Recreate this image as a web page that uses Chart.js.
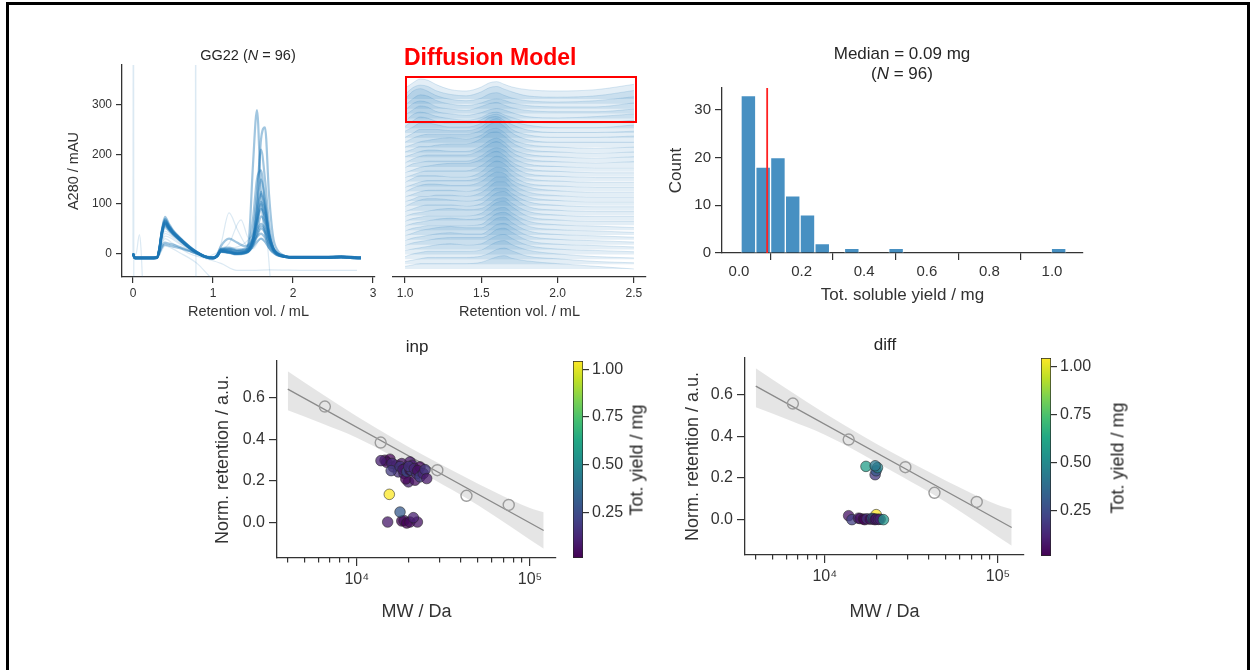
<!DOCTYPE html>
<html>
<head>
<meta charset="utf-8">
<script src="https://cdn.jsdelivr.net/npm/chart.js@4.4.1/dist/chart.umd.min.js"></script>
<style>
  html, body { margin: 0; padding: 0; background: #fff; }
  body { width: 1252px; height: 670px; position: relative; overflow: hidden;
         font-family: "Liberation Sans", Arial, sans-serif; color: #262626; }
  canvas { position: absolute; }
  .frame { position: absolute; left: 6px; top: 2px; width: 1238px; height: 700px;
           border: 3px solid #000; border-bottom: none; }
  .lbl { position: absolute; text-align: center; white-space: nowrap; }
  .note { position: absolute; color: #ff0000; font-weight: bold; font-size: 23px; white-space: nowrap; }
  .box { position: absolute; border: 2px solid #ff0000; box-sizing: border-box; }
  .rot { position: absolute; white-space: nowrap; transform: translate(-50%, -50%) rotate(-90deg); }
</style>
</head>
<body>
<div class="frame"></div>

<canvas id="chromChart" width="330" height="285" style="left:60px;top:40px"></canvas>
<canvas id="ridgeChart" width="280" height="285" style="left:380px;top:40px"></canvas>
<canvas id="yieldHist" width="440" height="280" style="left:660px;top:40px"></canvas>
<canvas id="inpScatter" width="365" height="300" style="left:200px;top:330px"></canvas>
<canvas id="inpBar" width="95" height="300" style="left:565px;top:330px"></canvas>
<canvas id="diffScatter" width="365" height="300" style="left:670px;top:330px"></canvas>
<canvas id="diffBar" width="110" height="300" style="left:1035px;top:330px"></canvas>

<div class="lbl" style="left:148px;width:200px;top:46px;font-size:14.5px;line-height:18px">GG22 (<i>N</i> = 96)</div>
<div class="note" style="left:404px;top:44px">Diffusion Model</div>
<div class="box" style="left:405px;top:76px;width:232px;height:47px"></div>
<div class="lbl" style="left:752px;width:300px;top:44px;font-size:17px;line-height:20px">Median = 0.09 mg<br>(<i>N</i> = 96)</div>
<div class="lbl" style="left:317px;width:200px;top:336px;font-size:17px;line-height:21px">inp</div>
<div class="lbl" style="left:785px;width:200px;top:334px;font-size:17px;line-height:21px">diff</div>
<div class="rot" style="left:637px;top:460px;font-size:18px">Tot. yield / mg</div>
<div class="rot" style="left:1118px;top:458px;font-size:18px">Tot. yield / mg</div>

<script>
// ---- chromatograms (A280 vs retention volume) ----
const chromVol = [0, 0.02, 0.05, 0.1, 0.2, 0.3, 0.33, 0.36, 0.4, 0.45, 0.5, 0.6, 0.7, 0.8, 0.9, 1.0, 1.05, 1.1, 1.2, 1.3,
                  1.4, 1.45, 1.5, 1.55, 1.6, 1.65, 1.7, 1.75, 1.8, 1.9, 2.0, 2.2, 2.4, 2.6, 2.85];
const chromTraces = [
  [0, -8, -9, -9, -9, -8, 12, 45, 70, 57, 45, 29, 15, 3, -6, -9, -5, 6, 3, 0, 4, 30, 180, 290, 120, 40, 12, 2, -3, -6, -8, -8, -8, -7, -9],
  [-1, -9, -10, -10, -10, -9, 8, 40, 62, 52, 42, 27, 13, 2, -7, -10, -6, 5, 3, 1, 2, 6, 25, 90, 230, 255, 120, 35, 8, -5, -8, -9, -9, -8, -9],
  [0, -7, -8, -8, -8, -7, 10, 44, 66, 55, 44, 28, 14, 2, -6, -8, -4, 8, 6, 2, 4, 10, 40, 120, 210, 150, 60, 15, 2, -5, -7, -7, -7, -6, -8],
  [-2, -9, -10, -10, -10, -9, 6, 38, 58, 49, 40, 25, 12, 1, -7, -10, -5, 10, 12, 8, 10, 20, 70, 150, 168, 100, 35, 8, -2, -7, -9, -9, -9, -8, -10],
  [0, -8, -9, -9, -9, -8, 9, 42, 64, 53, 43, 27, 13, 2, -6, -9, -6, 4, 2, -1, 1, 6, 30, 95, 150, 110, 45, 12, 0, -6, -8, -8, -8, -7, -9],
  [-1, -8, -9, -9, -9, -8, 11, 46, 74, 60, 47, 30, 15, 3, -6, -9, -5, 7, 5, 1, 3, 8, 30, 80, 125, 95, 40, 12, 1, -6, -8, -8, -8, -7, -9],
  [0, -9, -10, -10, -10, -9, 7, 40, 60, 50, 41, 26, 12, 1, -7, -10, -6, 5, 3, 0, 2, 6, 22, 60, 105, 85, 40, 12, 0, -7, -9, -9, -9, -8, -10],
  [-1, -7, -8, -8, -8, -7, 10, 43, 66, 54, 43, 28, 14, 2, -5, -8, -4, 9, 8, 5, 6, 10, 30, 60, 90, 75, 38, 12, 1, -5, -7, -7, -7, -6, -8],
  [0, -8, -9, -9, -9, -8, 9, 41, 62, 52, 42, 27, 13, 2, -6, -9, -6, 4, 2, -1, 1, 5, 18, 45, 75, 62, 30, 10, 0, -6, -8, -8, -8, -7, -9],
  [0, -8, -9, -9, -9, -8, 10, 44, 68, 56, 45, 29, 14, 2, -6, -9, -3, 15, 30, 22, 15, 18, 30, 48, 60, 50, 28, 10, 0, -6, -8, -8, -8, -7, -9],
  [-1, -9, -10, -10, -10, -9, 6, 36, 54, 46, 38, 24, 11, 1, -7, -10, -6, 3, 1, -2, 0, 4, 15, 35, 50, 42, 22, 7, -2, -7, -9, -9, -9, -8, -10],
  [0, -8, -9, -9, -9, -8, 8, 38, 58, 49, 40, 25, 12, 1, -6, -9, -5, 8, 10, 6, 8, 12, 22, 34, 40, 32, 18, 6, -1, -6, -8, -8, -8, -7, -9],
  [0, -9, -10, -10, -10, -9, 0, 14, 22, 20, 18, 12, 6, -1, -7, -10, -6, 4, 2, 0, 2, 6, 14, 24, 30, 24, 12, 3, -3, -7, -9, -9, -9, -8, -10],
  [0, -7, -8, -8, -8, -7, 2, 12, 18, 16, 14, 10, 5, 0, -6, -8, -4, 6, 8, 5, 6, 10, 20, 40, 55, 45, 22, 7, 0, -5, -7, -7, -7, -6, -8],
  [-1, -8, -9, -9, -9, -8, 9, 42, 63, 52, 42, 27, 13, 2, -6, -9, -5, 6, 4, 1, 3, 8, 28, 70, 120, 90, 38, 11, 0, -6, -8, -8, -8, -7, -9],
  [0, -9, -10, -10, -10, -9, 7, 39, 60, 50, 41, 26, 12, 1, -7, -10, -6, 4, 2, -1, 1, 6, 24, 65, 100, 70, 30, 9, -1, -7, -9, -9, -9, -8, -10]
];
// odd runs: spikes, dropouts and early/late eluting peaks, [mL, mAU]
const chromOutliers = [
  [[0, -10], [0.005, 800], [0.01, -60]],
  [[0, -5], [0.04, 0], [0.08, 38], [0.1, 10], [0.12, -60]],
  [[0, -8], [0.3, -8], [0.4, 40], [0.6, 20], [0.78, 5], [0.783, 800], [0.787, -60]],
  [[0, -9], [0.3, -9], [0.4, 30], [0.5, 20], [0.7, 0], [0.9, -10], [1.1, -20], [1.3, -34], [1.5, -34], [1.7, -33], [2.2, -34], [2.8, -34]],
  [[0, -8], [0.3, -8], [0.4, 45], [0.5, 35], [0.8, 2], [1.0, -9], [1.1, 20], [1.2, 82], [1.3, 50], [1.4, 20], [1.5, 10], [1.6, 30], [1.7, 10], [1.8, -5], [2.0, -8], [2.8, -8]],
  [[0, -8], [0.3, -8], [0.4, 50], [0.5, 38], [0.8, 2], [1.0, -9], [1.1, 5], [1.2, 20], [1.35, 68], [1.45, 30], [1.55, 60], [1.6, 90], [1.7, 30], [1.8, 0], [2.0, -8], [2.8, -8]],
  [[0, -8], [0.3, -8], [0.4, 35], [0.6, 18], [0.9, -7], [1.1, 5], [1.5, 40], [1.62, 100], [1.68, 20], [1.72, -60]],
  [[0, -9], [0.3, -9], [0.4, 15], [0.6, 0], [0.8, -20], [0.95, -45], [1.05, -60]]
];

// ---- ridgeline of modelled profiles, top row first ----
const ridgeVol = [1.0, 1.05, 1.1, 1.15, 1.2, 1.3, 1.4, 1.5, 1.55, 1.6, 1.65, 1.7, 1.8, 2.0, 2.25, 2.5];
const ridgeHeights = [
  [4, 6, 7.5, 7, 5.5, 3.5, 3, 4.5, 6, 6.5, 5.5, 4.5, 3.5, 3, 3.5, 5.5],
  [3.5, 6, 7, 6.5, 5, 3.5, 3, 4.5, 6, 6.5, 5.5, 4.5, 3, 2.5, 3, 5],
  [3.5, 6.5, 7.5, 6.5, 5, 3.5, 3, 4, 5.5, 6, 5, 4, 3, 2.5, 3, 4.5],
  [3, 5.5, 7, 6.5, 5, 3.5, 3, 4, 5, 5.5, 5, 4, 3, 2.5, 2.5, 4],
  [3, 5.5, 6.5, 6, 4.5, 3.5, 3, 4.5, 5.5, 6, 5, 4, 3, 2.5, 2.5, 3.5],
  [3, 5, 6.5, 6, 4.5, 3.5, 3, 4, 5, 5.5, 5, 4, 2.5, 2, 2.5, 3.5],
  [2.5, 5, 6, 5.5, 4.5, 3.5, 3, 4, 5.5, 6, 5, 4, 2.5, 2, 2, 3],
  [2.5, 4.5, 6, 5.5, 4.5, 3.5, 3.5, 5, 6.5, 7, 6, 4.5, 3, 2, 2, 3],
  [2.5, 4, 5.5, 5.5, 5, 4, 4, 5.5, 7.5, 8, 6.5, 5, 3, 2, 2, 2.5],
  [2, 3.5, 5, 5, 5, 4.5, 4.5, 6, 8, 9, 7.5, 5, 3, 2, 2, 2.5],
  [2, 3.5, 4.5, 5, 5, 5, 5, 6.5, 8.5, 9.5, 8, 5.5, 3, 2, 2, 2],
  [2, 3, 4, 4.5, 5, 5.5, 5, 6.5, 8.5, 9, 7.5, 5, 3, 2, 1.5, 2],
  [2, 3, 4, 4, 4.5, 5, 5, 7, 9, 9.5, 8, 5.5, 3, 2, 1.5, 2],
  [2, 3, 4, 4.5, 4.5, 4, 4, 6, 8, 9, 7.5, 5, 3, 2, 1.5, 2],
  [1.5, 3, 4, 4.5, 4.5, 4.5, 4.5, 6.5, 8.5, 9.5, 8, 5.5, 3, 2, 1.5, 2],
  [1.5, 3, 3.5, 4, 4, 4, 4, 6, 8, 9, 8, 5.5, 3, 2, 1.5, 1.5],
  [1.5, 2.5, 3.5, 4, 4.5, 5, 5, 6.5, 8.5, 9.5, 8, 5.5, 3, 2, 1.5, 1.5],
  [1.5, 2.5, 3.5, 4, 4, 4, 4, 6, 8, 9.5, 8.5, 6, 3, 2, 1.5, 1.5],
  [1.5, 3, 4, 4, 4, 3.5, 3.5, 5.5, 8, 9.5, 8.5, 6, 3, 2, 1.5, 1.5],
  [1.5, 2.5, 3.5, 4, 4, 4, 4, 5.5, 7.5, 9, 8.5, 6, 3, 2, 1.5, 1.5],
  [1.5, 3, 4, 4.5, 4.5, 4, 4, 5.5, 7.5, 9, 8.5, 6, 3.5, 2, 1.5, 1.5],
  [1.5, 2.5, 3.5, 4, 4, 4, 3.5, 5, 7, 9, 9, 6.5, 3.5, 2, 1.5, 1.5],
  [1.5, 2.5, 3.5, 3.5, 4, 4, 3.5, 5, 7, 9, 9, 6.5, 3.5, 2, 1.5, 1.5],
  [1.5, 3, 4, 4.5, 4.5, 4, 3.5, 4.5, 6.5, 8.5, 8.5, 6.5, 3.5, 2, 1.5, 1.5],
  [1.5, 2.5, 3.5, 4, 4, 4, 3.5, 4.5, 6.5, 8.5, 9, 7, 3.5, 2, 1.5, 1.5],
  [1.5, 2.5, 3, 3.5, 4, 4.5, 4, 4.5, 6, 8, 8.5, 6.5, 3.5, 2, 1.5, 1.5],
  [1.5, 2.5, 3, 3.5, 3.5, 3.5, 3.5, 4.5, 6.5, 8.5, 9, 7, 3.5, 2, 1.5, 1.5],
  [1.5, 2.5, 3, 3.5, 4, 4.5, 4, 4.5, 6, 8, 8.5, 6.5, 3.5, 2, 1.5, 1],
  [1.5, 2.5, 3, 3.5, 3.5, 3.5, 3.5, 4, 6, 8, 8.5, 7, 3.5, 2, 1.5, 1],
  [1.5, 2.5, 3.5, 4, 4.5, 5, 4.5, 4.5, 6, 8, 8.5, 6.5, 3.5, 2, 1.5, 1],
  [1.5, 2.5, 3, 3.5, 4, 4.5, 4, 4, 5.5, 7.5, 8, 6.5, 3.5, 2, 1.5, 1],
  [1.5, 2.5, 3, 3.5, 4, 4.5, 4.5, 4.5, 5.5, 7.5, 8, 6.5, 3.5, 2, 1.5, 1],
  [1.5, 2, 2.5, 3, 3.5, 4, 3.5, 4, 5.5, 7, 7.5, 6, 3.5, 2, 1.5, 1],
  [1, 2, 2.5, 3, 3, 3, 3, 3.5, 5, 6.5, 7, 5.5, 3.5, 2, 1, 0.5],
  [1, 1.5, 2, 2.5, 2.5, 2.5, 2.5, 3, 4, 5.5, 6, 5, 3, 2, 1, 0.5],
  [1, 1.5, 2, 2, 2, 2, 2, 2.5, 3.5, 4.5, 5, 4, 3, 2, 1, 0]
];

// ---- total soluble yield histogram ----
const yieldCounts = [33, 18, 20, 12, 8, 2, 0, 1, 0, 0, 1, 0, 0, 0, 0, 0, 0, 0, 0, 0, 0, 1];
const yieldBinStart = 0.0064;
const yieldBinWidth = 0.0472;
const yieldMedian = 0.09;

// ---- MW calibration: standards, log-linear fit and its confidence band ----
const stdMW = [6550, 13750, 29200, 43000, 75400];
const stdRet = [0.558, 0.385, 0.252, 0.129, 0.085];
const fitMW = [4000, 120000];
const fitRet = [0.642, -0.038];
const bandMW = [4000, 6310, 10000, 15850, 25120, 39810, 63100, 100000, 120000];
const bandUpper = [0.728, 0.618, 0.512, 0.412, 0.318, 0.230, 0.146, 0.070, 0.050];
const bandLower = [0.540, 0.476, 0.408, 0.322, 0.228, 0.134, 0.030, -0.082, -0.125];

// constructs placed on the calibration, input retention
const inpMW = [15090, 18200, 18760, 19450, 20300, 22400, 21230, 17780, 15420,
  14560, 15560, 14900, 13800, 16260, 17000, 16000, 17380, 15800, 18200, 17800, 18760, 19000, 18500, 19880,
  19200, 19500, 20300, 20300, 20750, 21000, 20000, 21700, 22170, 21500, 23200, 22500, 23200, 24200, 24800, 25350];
const inpRet = [0.003, 0.008, 0.010, -0.002, 0.003, 0.003, 0.024, 0.051, 0.136,
  0.300, 0.305, 0.290, 0.298, 0.268, 0.276, 0.285, 0.244, 0.250, 0.284, 0.270, 0.236, 0.260, 0.255, 0.196,
  0.210, 0.245, 0.292, 0.252, 0.252, 0.276, 0.270, 0.204, 0.236, 0.260, 0.268, 0.250, 0.220, 0.236, 0.255, 0.212];
const inpYield = [0.08, 0.02, 0.05, 0.01, 0.04, 0.06, 0.10, 0.30, 1.04,
  0.03, 0.02, 0.05, 0.10, 0.08, 0.04, 0.13, 0.15, 0.19, 0.06, 0.18, 0.12, 0.02, 0.09, 0.10,
  0.02, 0.25, 0.07, 0.03, 0.22, 0.09, 0.16, 0.05, 0.14, 0.12, 0.04, 0.06, 0.20, 0.11, 0.17, 0.08];

// same constructs, retention from the diffusion model
const diffMW = [19820, 13740, 14360, 15670, 16000, 16740, 17000, 17540, 18330, 18800, 19150, 19500, 19820, 20420, 20900, 21830,
  19540, 19800, 17300, 20170, 19540];
const diffRet = [0.024, 0.019, 0.000, 0.007, 0.005, 0.003, 0.000, 0.004, 0.002, 0.006, 0.003, 0.000, 0.003, 0.001, 0.002, 0.000,
  0.216, 0.235, 0.256, 0.250, 0.259];
const diffYield = [1.04, 0.06, 0.20, 0.10, 0.05, 0.03, 0.01, 0.15, 0.02, 0.35, 0.25, 0.04, 0.08, 0.12, 0.10, 0.55,
  0.18, 0.30, 0.58, 0.48, 0.42];

const yieldRange = [0.011, 1.044];
const mwTicks = [1e4, 1e5];
const mwMinorTicks = [4000, 5000, 6000, 7000, 8000, 9000, 20000, 30000, 40000, 50000, 60000, 70000, 80000, 90000];
const retTicks = [0, 0.2, 0.4, 0.6];
const cbarTicks = [0.25, 0.5, 0.75, 1.0];

const INK = '#333';
const BLUE = '31,119,180';
Chart.defaults.font.family = '"Liberation Sans", Arial, sans-serif';
Chart.defaults.color = INK;

const VIRIDIS = ['#440154', '#482475', '#414487', '#355f8d', '#2a788e', '#21918c',
                 '#22a884', '#44bf70', '#7ad151', '#bddf26', '#fde725'];
const hexRgb = h => [1, 3, 5].map(i => parseInt(h.slice(i, i + 2), 16));
function viridis(v, a) {
  const t = Math.min(1, Math.max(0, (v - yieldRange[0]) / (yieldRange[1] - yieldRange[0])));
  const p = t * (VIRIDIS.length - 1);
  const i = Math.min(Math.floor(p), VIRIDIS.length - 2);
  const c0 = hexRgb(VIRIDIS[i]), c1 = hexRgb(VIRIDIS[i + 1]);
  const c = c0.map((c, k) => Math.round(c + (c1[k] - c) * (p - i)));
  return `rgba(${c[0]},${c[1]},${c[2]},${a})`;
}

// seaborn "ticks" style axis: spine + outward ticks, no grid
function axis(o) {
  return {
    type: o.type || 'linear',
    position: o.position,
    axis: o.axis,
    display: o.display !== false,
    min: o.min, max: o.max,
    offset: false,
    grid: { drawOnChartArea: false, drawTicks: true, tickLength: o.tickLength || 6, color: INK, lineWidth: 1.2 },
    border: { display: o.border !== false, color: INK, width: 1.3 },
    ticks: { display: o.labels !== false, autoSkip: false, maxRotation: 0, padding: o.pad ?? 3,
             font: { size: o.tickSize || 12 }, color: INK, callback: o.fmt },
    title: o.title ? { display: true, text: o.title, color: INK, font: { size: o.titleSize }, padding: o.titlePad }
                   : { display: false },
    afterBuildTicks: s => { if (o.ticks) s.ticks = o.ticks.map(v => ({ value: v })); },
    afterFit: s => { if (o.size != null) { if (s.isHorizontal()) s.height = o.size; else s.width = o.size; } }
  };
}

const baseOptions = (padding, scales) => ({
  responsive: false, animation: false, devicePixelRatio: 1, events: [],
  layout: { padding },
  plugins: { legend: { display: false }, tooltip: { enabled: false } },
  scales
});

// chromatograms
const chromSets = [];
chromOutliers.forEach(pts => chromSets.push({
  data: pts.map(([x, y]) => ({ x, y })), borderColor: `rgba(${BLUE},0.16)`, borderWidth: 1.2,
  pointRadius: 0, cubicInterpolationMode: 'monotone'
}));
chromTraces.forEach(tr => chromSets.push({
  data: tr.map((y, i) => ({ x: chromVol[i], y })), borderColor: `rgba(${BLUE},0.42)`, borderWidth: 2.2,
  pointRadius: 0, cubicInterpolationMode: 'monotone'
}));
new Chart(document.getElementById('chromChart'), {
  type: 'line',
  data: { datasets: chromSets },
  options: baseOptions({ left: 0, top: 25, right: 15, bottom: 0 }, {
    x: axis({ min: -0.1375, max: 3.025, ticks: [0, 1, 2, 3], tickSize: 12, size: 48,
              title: 'Retention vol. / mL', titleSize: 14.5, titlePad: { top: 0, bottom: 4 } }),
    y: axis({ min: -47.5, max: 381, ticks: [0, 100, 200, 300], tickSize: 12, size: 62, pad: 4,
              title: 'A280 / mAU', titleSize: 14.5, titlePad: { top: 5, bottom: 0 } })
  })
});

// ridgeline: each profile sits on its own baseline, filled down to it
const ridgeScale = 0.55;
const ridgeSets = ridgeHeights.map((h, i) => {
  const base = ridgeHeights.length - 1 - i;
  return {
    data: h.map((v, j) => ({ x: ridgeVol[j], y: base + v * ridgeScale })),
    fill: { value: base },
    backgroundColor: `rgba(${BLUE},0.125)`, borderColor: `rgba(${BLUE},0.16)`, borderWidth: 1,
    pointRadius: 0, cubicInterpolationMode: 'monotone'
  };
});
new Chart(document.getElementById('ridgeChart'), {
  type: 'line',
  data: { datasets: ridgeSets },
  options: baseOptions({ left: 13, top: 25, right: 14, bottom: 0 }, {
    x: axis({ min: 0.921, max: 2.579, ticks: [1.0, 1.5, 2.0, 2.5], fmt: v => v.toFixed(1), tickSize: 12, size: 48,
              title: 'Retention vol. / mL', titleSize: 14.5, titlePad: { top: 0, bottom: 4 } }),
    y: axis({ display: false, min: -1.65, max: 42 })
  })
});

// yield histogram with the median marked
const countMax = 34.6;
new Chart(document.getElementById('yieldHist'), {
  type: 'bar',
  data: {
    datasets: [
      { type: 'line', data: [{ x: yieldMedian, y: 0 }, { x: yieldMedian, y: countMax }],
        borderColor: '#ff2020', borderWidth: 1.8, pointRadius: 0, order: 0 },
      { type: 'bar', data: yieldCounts.map((c, i) => ({ x: yieldBinStart + (i + 0.5) * yieldBinWidth, y: c })),
        backgroundColor: `rgba(${BLUE},0.82)`, borderColor: '#fff', borderWidth: 1,
        barPercentage: 1, categoryPercentage: 1, order: 1 }
    ]
  },
  options: baseOptions({ left: 0, top: 48, right: 17, bottom: 0 }, {
    x: axis({ min: -0.0543, max: 1.099, ticks: [0, 0.2, 0.4, 0.6, 0.8, 1.0], fmt: v => v.toFixed(1),
              tickSize: 15, tickLength: 7, size: 67,
              title: 'Tot. soluble yield / mg', titleSize: 17, titlePad: { top: 0, bottom: 14 } }),
    y: axis({ min: 0, max: countMax, ticks: [0, 10, 20, 30], tickSize: 15, tickLength: 7, size: 62, pad: 4,
              title: 'Count', titleSize: 17, titlePad: { top: 6, bottom: 0 } })
  })
});

// calibration scatter + colorbar
const retMin = -0.17, retMax = 0.777;
function calibration(id, mw, ret, yld, pad, ySize, xSize) {
  new Chart(document.getElementById(id), {
    type: 'scatter',
    data: {
      datasets: [
        { type: 'scatter', data: mw.map((x, i) => ({ x, y: ret[i] })),
          backgroundColor: yld.map(v => viridis(v, 0.75)), borderColor: 'rgba(35,35,35,0.55)', borderWidth: 1,
          pointRadius: 5.3, order: 0 },
        { type: 'scatter', data: stdMW.map((x, i) => ({ x, y: stdRet[i] })),
          backgroundColor: 'rgba(0,0,0,0)', borderColor: '#9c9c9c', borderWidth: 1.4, pointRadius: 5.5, order: 1 },
        { type: 'line', data: fitMW.map((x, i) => ({ x, y: fitRet[i] })),
          borderColor: '#8a8a8a', borderWidth: 1.3, pointRadius: 0, order: 2 },
        { type: 'line', data: bandMW.map((x, i) => ({ x, y: bandUpper[i] })), fill: '+1',
          backgroundColor: 'rgba(0,0,0,0.1)', borderWidth: 0, pointRadius: 0, cubicInterpolationMode: 'monotone', order: 3 },
        { type: 'line', data: bandMW.map((x, i) => ({ x, y: bandLower[i] })), fill: false,
          borderWidth: 0, pointRadius: 0, cubicInterpolationMode: 'monotone', order: 4 }
      ]
    },
    options: baseOptions(pad, {
      x: axis({ type: 'logarithmic', min: 3467, max: 141300, ticks: mwTicks, tickLength: 8, tickSize: 16, pad: 4,
                fmt: v => (v === 1e4 ? '10\u2074' : '10\u2075'), size: xSize,
                title: 'MW / Da', titleSize: 18, titlePad: { top: 0, bottom: 7 } }),
      xm: axis({ type: 'logarithmic', axis: 'x', position: { y: retMin }, min: 3467, max: 141300,
                 ticks: mwMinorTicks, tickLength: 4.5, labels: false, border: false }),
      y: axis({ min: retMin, max: retMax, ticks: retTicks, fmt: v => v.toFixed(1), tickLength: 8, tickSize: 16, size: ySize, pad: 4,
                title: 'Norm. retention / a.u.', titleSize: 18, titlePad: { top: 12, bottom: 0 } })
    })
  });
}

function colorbar(id, pad, ySize) {
  new Chart(document.getElementById(id), {
    type: 'bar',
    data: {
      labels: [''],
      datasets: [{
        data: [yieldRange],
        backgroundColor: c => {
          const area = c.chart.chartArea;
          if (!area) return VIRIDIS[0];
          const g = c.chart.ctx.createLinearGradient(0, area.bottom, 0, area.top);
          VIRIDIS.forEach((col, i) => g.addColorStop(i / (VIRIDIS.length - 1), col));
          return g;
        },
        borderColor: '#262626', borderWidth: 1, borderSkipped: false,
        barPercentage: 1, categoryPercentage: 1
      }]
    },
    options: baseOptions(pad, {
      x: { display: false },
      y: axis({ position: 'right', min: yieldRange[0], max: yieldRange[1], ticks: cbarTicks, fmt: v => v.toFixed(2),
                tickLength: 6, tickSize: 16, size: ySize, border: false })
    })
  });
}

calibration('inpScatter', inpMW, inpRet, inpYield, { left: 0, top: 31, right: 9, bottom: 0 }, 77, 72);
colorbar('inpBar', { left: 8, top: 31, right: 0, bottom: 72 }, 77);
calibration('diffScatter', diffMW, diffRet, diffYield, { left: 0, top: 28, right: 11, bottom: 0 }, 75, 75);
colorbar('diffBar', { left: 6, top: 28, right: 0, bottom: 74 }, 94);
</script>
</body>
</html>
